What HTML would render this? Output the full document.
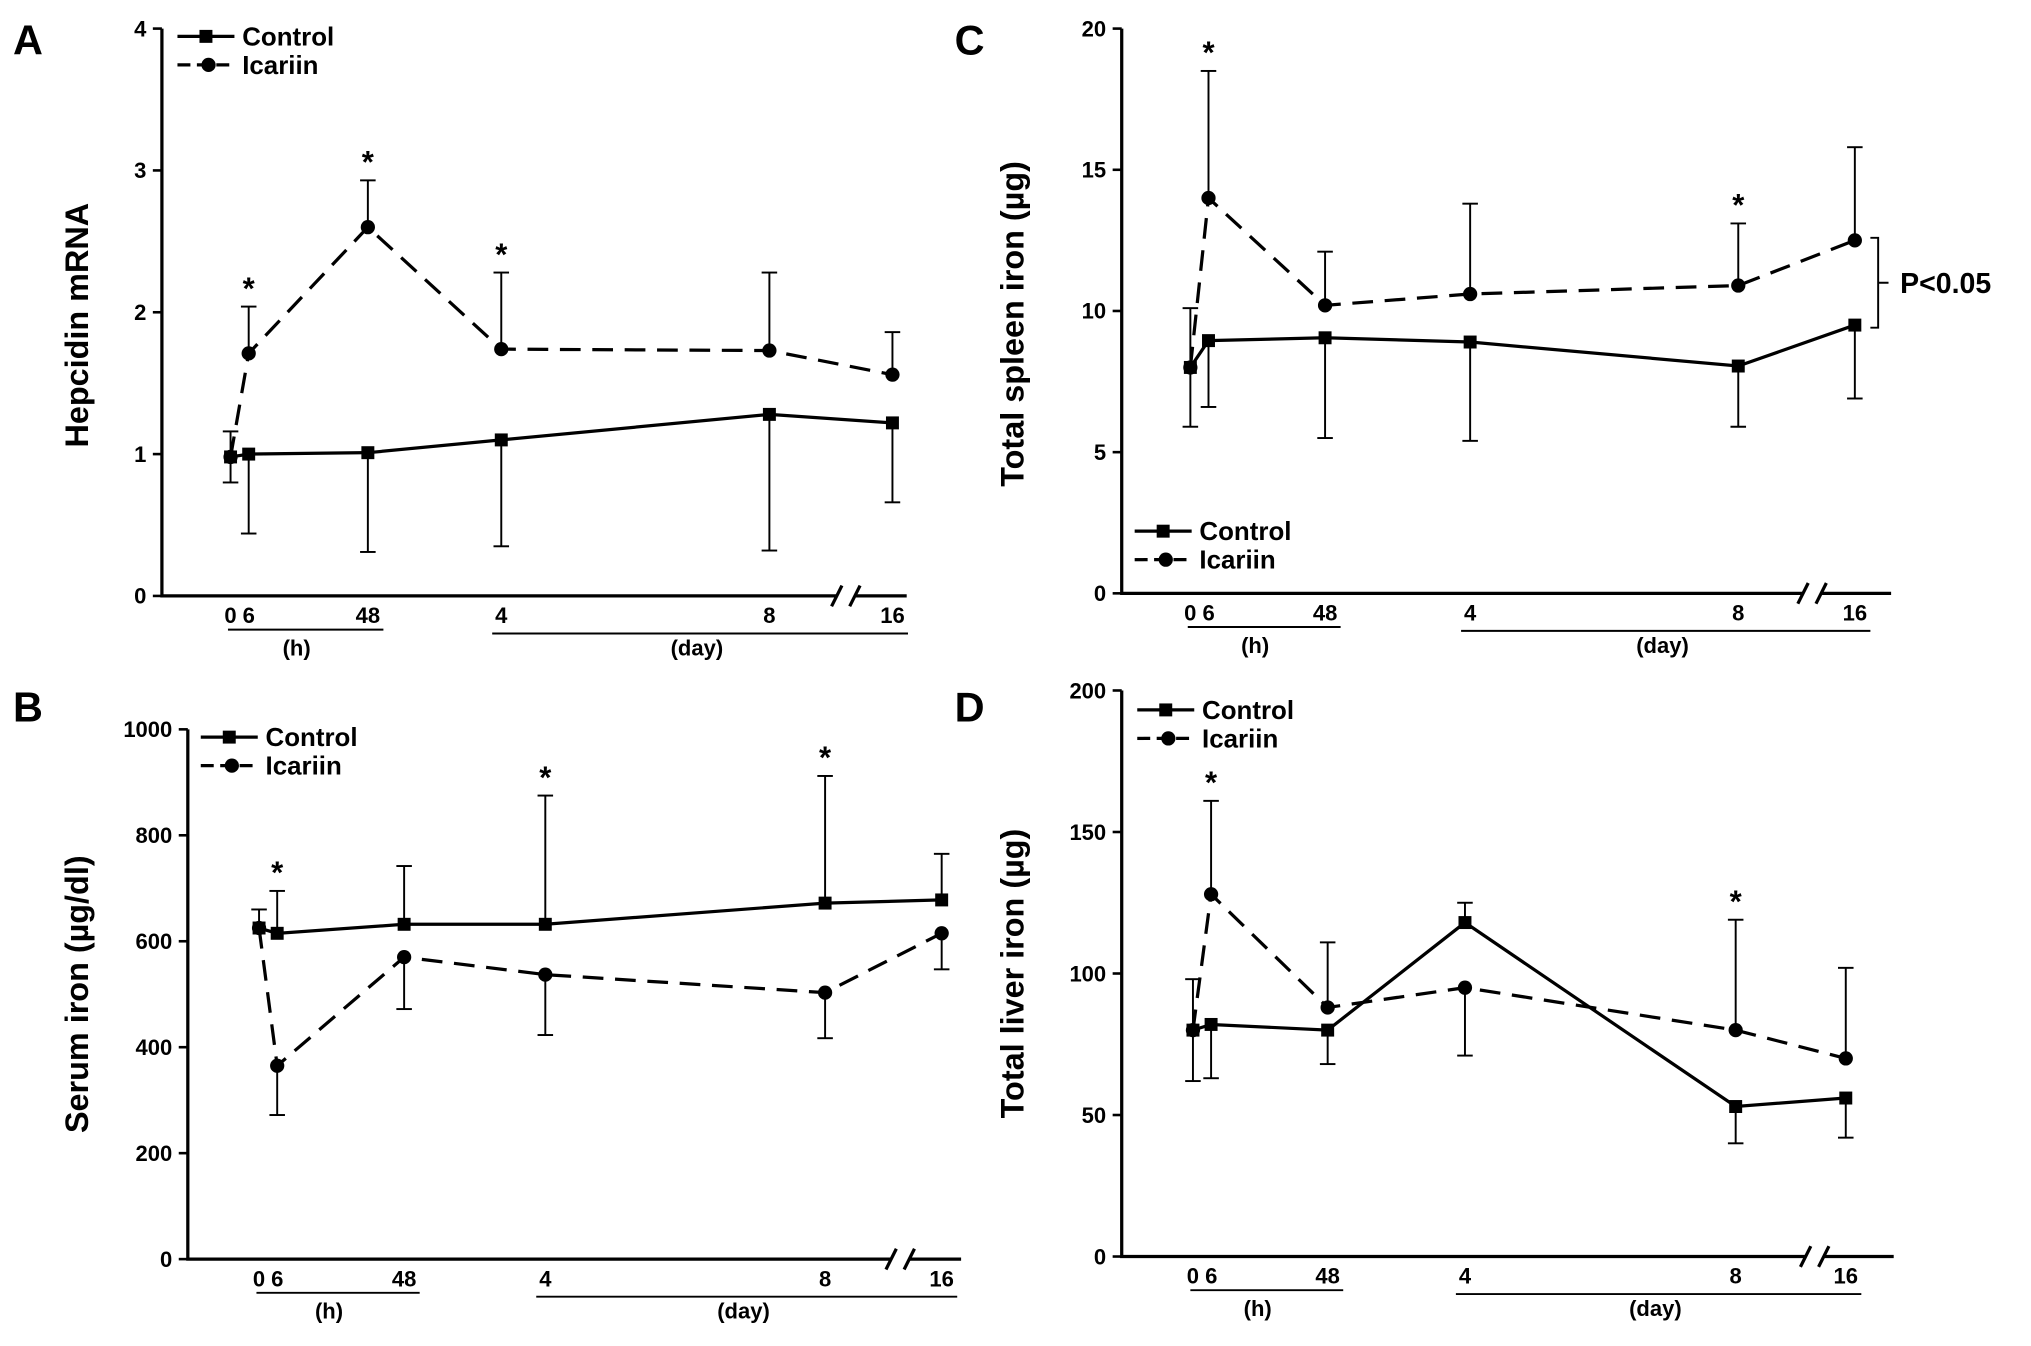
<!DOCTYPE html>
<html><head><meta charset="utf-8"><style>
html,body{margin:0;padding:0;background:#fff;}
svg{display:block;font-family:"Liberation Sans",Arial,sans-serif;font-weight:bold;}
</style></head><body>
<svg id="fig" width="2031" height="1346" viewBox="0 0 1568 1039" xmlns="http://www.w3.org/2000/svg"></svg>
<script>
// x categories shared
const xCats = ["0","6","48","4","8","16"];
// Panel A
const aControl = [0.98,1.0,1.01,1.1,1.28,1.22];
const aControlLo = [0.8,0.44,0.31,0.35,0.32,0.66];
const aControlHi = [1.16,null,null,null,null,null];
const aIcariin = [0.98,1.71,2.6,1.74,1.73,1.56];
const aIcariinHi = [null,2.04,2.93,2.28,2.28,1.86];
const aIcariinLo = [null,null,null,null,null,null];
const aStars = [1,2,3];
const aTicks = [0,1,2,3,4];
// Panel B
const bControl = [625,615,632,632,672,678];
const bControlHi = [660,695,742,875,912,765];
const bControlLo = [null,null,null,null,null,null];
const bIcariin = [625,365,570,537,503,615];
const bIcariinLo = [null,272,472,423,417,547];
const bIcariinHi = [null,null,null,null,null,null];
const bStars = [1,3,4];
const bTicks = [0,200,400,600,800,1000];
// Panel C
const cControl = [8.0,8.95,9.05,8.9,8.05,9.5];
const cControlLo = [5.9,6.6,5.5,5.4,5.9,6.9];
const cControlHi = [10.1,null,null,null,null,null];
const cIcariin = [8.0,14.0,10.2,10.6,10.9,12.5];
const cIcariinHi = [null,18.5,12.1,13.8,13.1,15.8];
const cIcariinLo = [null,null,null,null,null,null];
const cStars = [1,4];
const cTicks = [0,5,10,15,20];
// Panel D
const dControl = [80,82,80,118,53,56];
const dControlLo = [62,63,68,null,40,42];
const dControlHi = [98,null,null,125,null,null];
const dIcariin = [80,128,88,95,80,70];
const dIcariinHi = [null,161,111,null,119,102];
const dIcariinLo = [null,null,null,71,null,null];
const dStars = [1,4];
const dTicks = [0,50,100,150,200];

const svg = document.getElementById('fig');
const NS = "http://www.w3.org/2000/svg";
function el(tag, attrs, parent){
  const e = document.createElementNS(NS, tag);
  for(const k in attrs) e.setAttribute(k, attrs[k]);
  (parent||svg).appendChild(e);
  return e;
}
function txt(x,y,s,size,anchor,parent){
  const t = el('text',{x:x,y:y,'font-size':size,'text-anchor':anchor||'middle',fill:'#000'},parent);
  t.textContent = s;
  return t;
}

function panel(cfg){
  const g = el('g',{});
  
  
  const ys = v => cfg.y0 - (v - cfg.vmin)/(cfg.vmax-cfg.vmin)*(cfg.y0-cfg.y1);
  const xs = i => cfg.xpos[i];
  const ax = el('path',{d:`M${cfg.ax} ${cfg.y1} L${cfg.ax} ${cfg.y0} L${cfg.brk-6} ${cfg.y0} M${cfg.brk+8} ${cfg.y0} L${cfg.xend} ${cfg.y0}`,stroke:'#000','stroke-width':2.5,fill:'none'},g);
  
  
  const br = el('path',{d:`M${cfg.brk-10} ${cfg.y0+8} L${cfg.brk-2} ${cfg.y0-8} M${cfg.brk+4} ${cfg.y0+8} L${cfg.brk+12} ${cfg.y0-8}`,stroke:'#000','stroke-width':2.5},g);
  
  
  cfg.ticks.forEach(v=>{
    const y = ys(v);
    el('line',{x1:cfg.ax-7,x2:cfg.ax,y1:y,y2:y,stroke:'#000','stroke-width':2},g);
    const t = txt(cfg.ax-12,y+6,String(v),17,'end',g);
    
    
  });
  const yt = txt(0,0,cfg.ytitle,25,'middle',g);
  yt.setAttribute('transform',`translate(${cfg.ytx},${(cfg.y0+cfg.y1)/2+cfg.ytdy}) rotate(-90)`);
  
  
  const ly = cfg.y0+21;
  const xl0 = txt((xs(0)+xs(1))/2,ly,"0 6",17,'middle',g);
  
  
  for(let i=2;i<6;i++){
    const t = txt(xs(i),ly,xCats[i],17,'middle',g);
    
    
  }
  el('line',{x1:xs(0)-2,x2:xs(2)+12,y1:ly+5,y2:ly+5,stroke:'#000','stroke-width':1.5},g);
  el('line',{x1:xs(3)-7,x2:xs(5)+12,y1:ly+8,y2:ly+8,stroke:'#000','stroke-width':1.5},g);
  const hl = txt((xs(0)+xs(2))/2-2,ly+25,"(h)",17,'middle',g);
  
  
  const dl = txt((xs(3)+xs(5))/2,ly+25,"(day)",17,'middle',g);
  
  
  function err(vals, lo, hi){
    for(let i=0;i<6;i++){
      [lo[i],hi[i]].forEach(e=>{
        if(e===null||e===undefined) return;
        const x = xs(i);
        el('line',{x1:x,x2:x,y1:ys(vals[i]),y2:ys(e),stroke:'#000','stroke-width':1.5},g);
        el('line',{x1:x-6,x2:x+6,y1:ys(e),y2:ys(e),stroke:'#000','stroke-width':1.5},g);
      });
    }
  }
  err(cfg.ctrl, cfg.ctrlLo, cfg.ctrlHi);
  err(cfg.ica, cfg.icaLo, cfg.icaHi);
  const pts = a => a.map((v,i)=>`${xs(i)},${ys(v)}`).join(' ');
  const lc = el('polyline',{points:pts(cfg.ctrl),fill:'none',stroke:'#000','stroke-width':2.5},g);
  
  
  const li = el('polyline',{points:pts(cfg.ica),fill:'none',stroke:'#000','stroke-width':2.5,'stroke-dasharray':'16 9'},g);
  
  
  cfg.ctrl.forEach((v,i)=>{
    const r = el('rect',{x:xs(i)-5,y:ys(v)-5,width:10,height:10,fill:'#000'},g);
    
    
  });
  cfg.ica.forEach((v,i)=>{
    const c = el('circle',{cx:xs(i),cy:ys(v),r:5.5,fill:'#000'},g);
    
    
  });
  cfg.stars.forEach(i=>{
    const top = Math.max(cfg.ctrlHi[i]??-1e9, cfg.icaHi[i]??-1e9, cfg.ctrl[i], cfg.ica[i]);
    const s = txt(xs(i),ys(top)-6,"*",24,'middle',g);
    
    
  });
  const lg = el('g',{},g);
  
  
  const [lx,ly2] = cfg.leg;
  el('line',{x1:lx,x2:lx+44,y1:ly2,y2:ly2,stroke:'#000','stroke-width':2.5},lg);
  el('rect',{x:lx+17,y:ly2-5,width:10,height:10,fill:'#000'},lg);
  txt(lx+50,ly2+7,"Control",20,'start',lg);
  el('line',{x1:lx,x2:lx+44,y1:ly2+22,y2:ly2+22,stroke:'#000','stroke-width':2.5,'stroke-dasharray':'10 5'},lg);
  el('circle',{cx:lx+24,cy:ly2+22,r:5.5,fill:'#000'},lg);
  txt(lx+50,ly2+29,"Icariin",20,'start',lg);
  const L = txt(cfg.letter[1],cfg.letter[2],cfg.letter[0],32,'start',g);
  
  
  return {g,ys,xs};
}

panel({name:'panel-a-hepcidin',ax:125,y0:460,y1:22,vmin:0,vmax:4,ticks:aTicks,xpos:[178,192,284,387,594,689],brk:652,xend:700,
  ytitle:'Hepcidin mRNA',ytx:68,ytdy:10,ctrl:aControl,ctrlLo:aControlLo,ctrlHi:aControlHi,ica:aIcariin,icaLo:aIcariinLo,icaHi:aIcariinHi,
  stars:aStars,leg:[137,28],letter:['A',10,42]});
panel({name:'panel-b-serum-iron',ax:145,y0:972,y1:563,vmin:0,vmax:1000,ticks:bTicks,xpos:[200,214,312,421,637,727],brk:694,xend:742,
  ytitle:'Serum iron (µg/dl)',ytx:68,ytdy:0,ctrl:bControl,ctrlLo:bControlLo,ctrlHi:bControlHi,ica:bIcariin,icaLo:bIcariinLo,icaHi:bIcariinHi,
  stars:bStars,leg:[155,569],letter:['B',10,557]});
const c = panel({name:'panel-c-spleen-iron',ax:866,y0:458,y1:22,vmin:0,vmax:20,ticks:cTicks,xpos:[919,933,1023,1135,1342,1432],brk:1398,xend:1460,
  ytitle:'Total spleen iron (µg)',ytx:790,ytdy:10,ctrl:cControl,ctrlLo:cControlLo,ctrlHi:cControlHi,ica:cIcariin,icaLo:cIcariinLo,icaHi:cIcariinHi,
  stars:cStars,leg:[876,410],letter:['C',737,42]});
panel({name:'panel-d-liver-iron',ax:866,y0:970,y1:533,vmin:0,vmax:200,ticks:dTicks,xpos:[921,935,1025,1131,1340,1425],brk:1400,xend:1462,
  ytitle:'Total liver iron (µg)',ytx:790,ytdy:0,ctrl:dControl,ctrlLo:dControlLo,ctrlHi:dControlHi,ica:dIcariin,icaLo:dIcariinLo,icaHi:dIcariinHi,
  stars:dStars,leg:[878,548],letter:['D',737,557]});
const bk = el('path',{d:`M1444 ${c.ys(12.5)-2} L1450 ${c.ys(12.5)-2} L1450 ${c.ys(9.5)+2} L1444 ${c.ys(9.5)+2} M1450 ${(c.ys(12.5)+c.ys(9.5))/2} L1458 ${(c.ys(12.5)+c.ys(9.5))/2}`,stroke:'#000','stroke-width':1.5,fill:'none'});


const pt = txt(1467,(c.ys(12.5)+c.ys(9.5))/2+8,"P<0.05",22,'start');


</script>
</body></html>
